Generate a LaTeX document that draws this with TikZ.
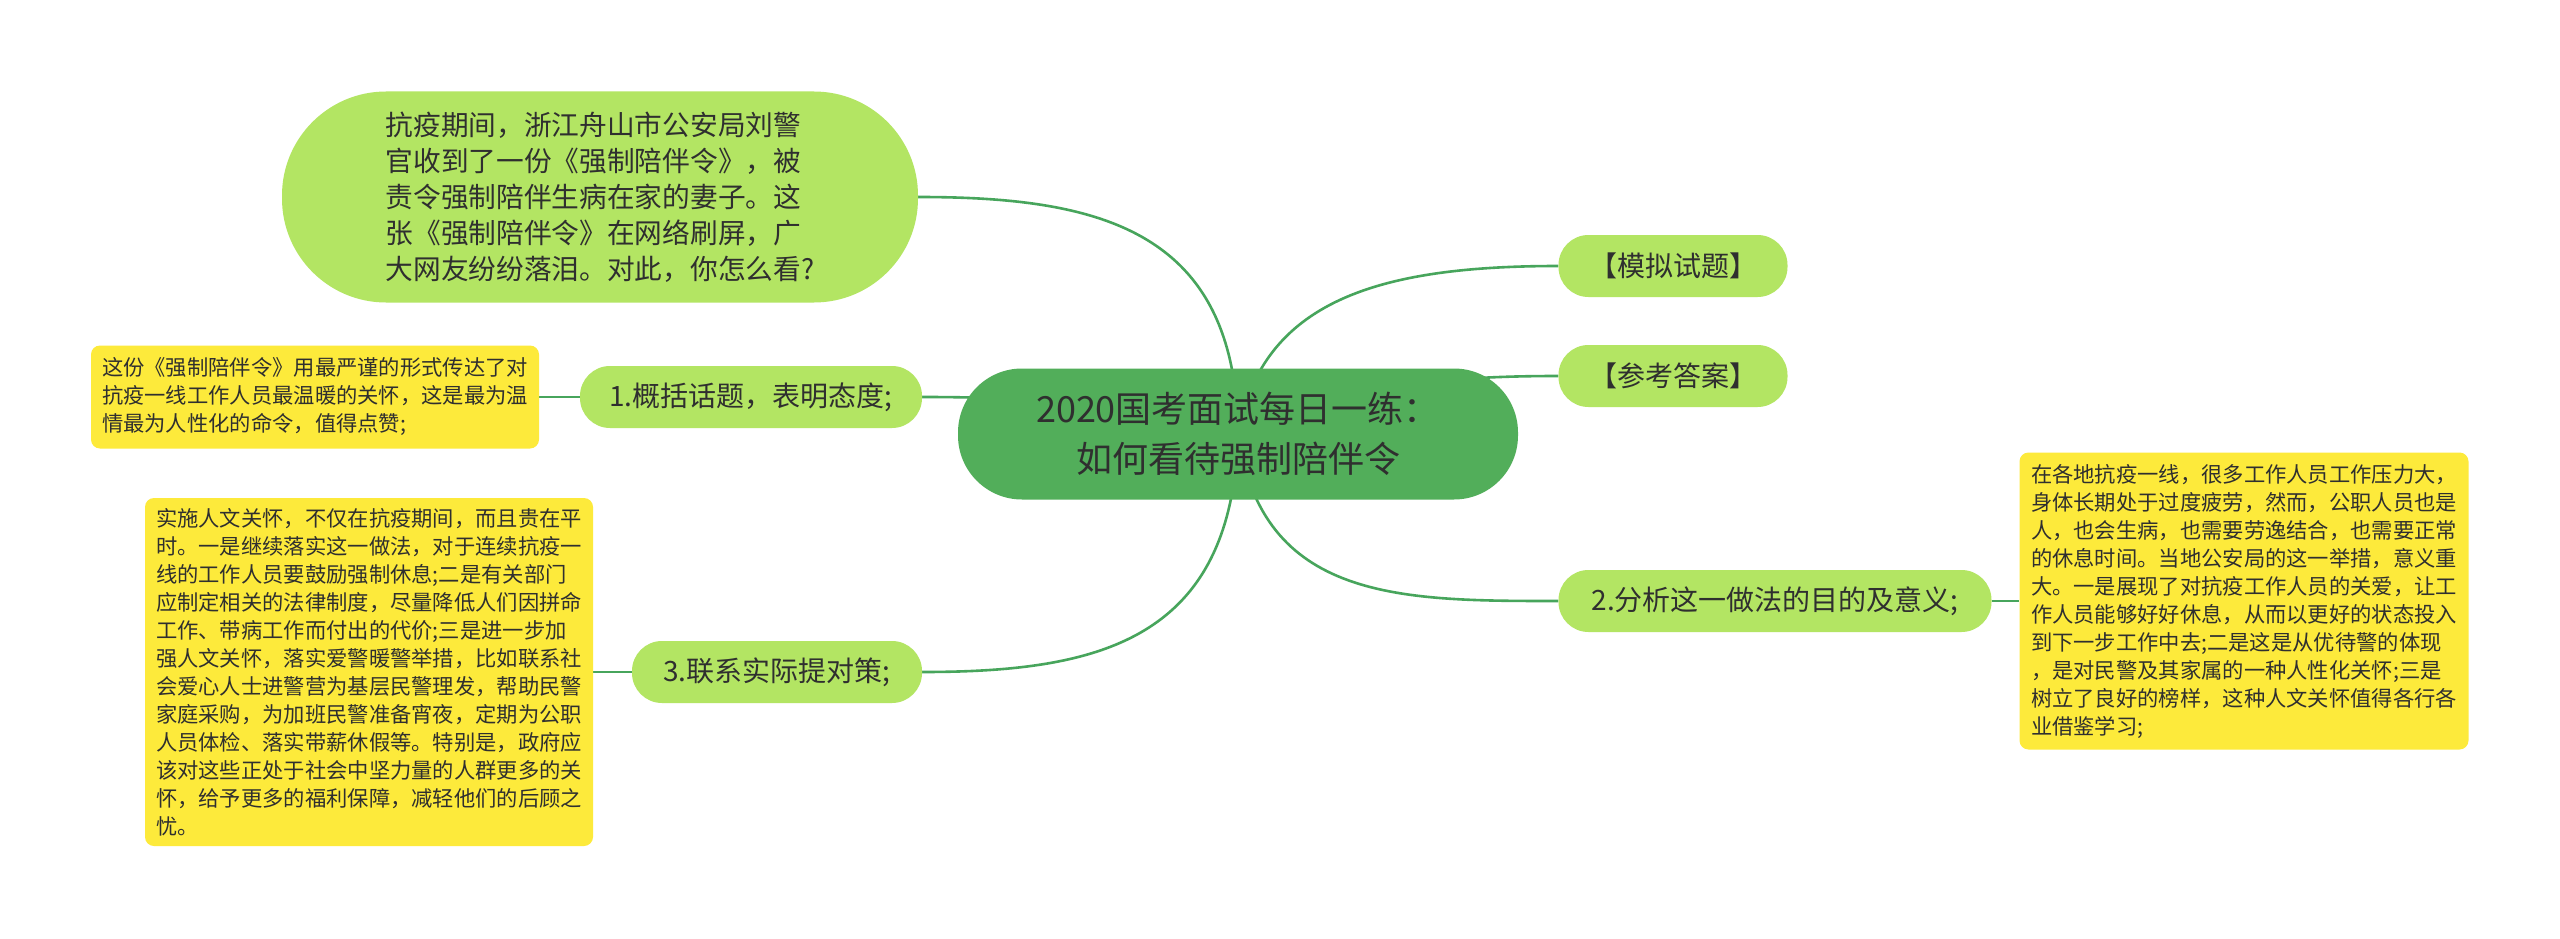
\documentclass[tikz,border=0pt]{standalone}
\usepackage{fontspec}
\setmainfont{Noto Sans CJK SC}
\definecolor{rootfill}{HTML}{52AE5A}
\definecolor{lgfill}{HTML}{B3E563}
\definecolor{yfill}{HTML}{FDEA3B}
\definecolor{linec}{HTML}{47A55C}
\definecolor{txt}{HTML}{2F2F2F}
\pgfdeclarelayer{back}
\pgfdeclarelayer{bg}
\pgfsetlayers{back,bg,main}
\begin{document}
\begin{tikzpicture}[x=1pt,y=-1pt,
  conn/.style={draw=linec, line width=2.6pt},
  rootbox/.style={fill=rootfill, rounded corners=64pt, minimum width=560pt, minimum height=131pt, inner sep=0pt, text=txt, align=center, font=\fontsize{36}{50}\selectfont},
  topicbox/.style={fill=lgfill, rounded corners=30pt, minimum height=62pt, inner sep=0pt, text=txt, font=\fontsize{28}{34}\selectfont},
  qbox/.style={fill=lgfill, rounded corners=104pt, minimum width=636pt, minimum height=211pt, inner sep=0pt, text=txt, align=left, font=\fontsize{27.7}{36}\selectfont},
  leafbox/.style={fill=yfill, rounded corners=9pt, minimum width=448pt, inner sep=0pt, text=txt, align=left, font=\fontsize{21.3}{28}\selectfont}
]
\begin{pgfonlayer}{back}
\fill[white] (0,0) rectangle (2560,939);
\end{pgfonlayer}
\useasboundingbox (0,0) rectangle (2560,939);

\node[rootbox] (root) at (1238,434) {2020国考面试每日一练：\\如何看待强制陪伴令};

\node[qbox] (q) at (600,197) {抗疫期间，浙江舟山市公安局刘警\\官收到了一份《强制陪伴令》，被\\责令强制陪伴生病在家的妻子。这\\张《强制陪伴令》在网络刷屏，广\\大网友纷纷落泪。对此，你怎么看?};

\node[topicbox, minimum width=229pt] (mn) at (1673,266) {【模拟试题】};
\node[topicbox, minimum width=229pt] (ck) at (1673,376) {【参考答案】};
\node[topicbox, minimum width=342pt] (t1) at (751,397) {1.概括话题，表明态度;};
\node[topicbox, minimum width=433pt] (t2) at (1775,601) {2.分析这一做法的目的及意义;};
\node[topicbox, minimum width=290pt] (t3) at (777,672) {3.联系实际提对策;};

\node[leafbox, minimum height=103pt] (y1) at (315,397) {这份《强制陪伴令》用最严谨的形式传达了对\\抗疫一线工作人员最温暖的关怀，这是最为温\\情最为人性化的命令，值得点赞;};

\node[leafbox, minimum height=348pt] (y3) at (369,672) {实施人文关怀，不仅在抗疫期间，而且贵在平\\时。一是继续落实这一做法，对于连续抗疫一\\线的工作人员要鼓励强制休息;二是有关部门\\应制定相关的法律制度，尽量降低人们因拼命\\工作、带病工作而付出的代价;三是进一步加\\强人文关怀，落实爱警暖警举措，比如联系社\\会爱心人士进警营为基层民警理发，帮助民警\\家庭采购，为加班民警准备宵夜，定期为公职\\人员体检、落实带薪休假等。特别是，政府应\\该对这些正处于社会中坚力量的人群更多的关\\怀，给予更多的福利保障，减轻他们的后顾之\\忧。};

\node[leafbox, minimum width=449pt, minimum height=297pt] (y2) at (2244,601) {在各地抗疫一线，很多工作人员工作压力大，\\身体长期处于过度疲劳，然而，公职人员也是\\人，也会生病，也需要劳逸结合，也需要正常\\的休息时间。当地公安局的这一举措，意义重\\大。一是展现了对抗疫工作人员的关爱，让工\\作人员能够好好休息，从而以更好的状态投入\\到下一步工作中去;二是这是从优待警的体现\\，是对民警及其家属的一种人性化关怀;三是\\树立了良好的榜样，这种人文关怀值得各行各\\业借鉴学习;};

\begin{pgfonlayer}{bg}
\draw[conn] (root.center) .. controls (1236,230) and (1100,197) .. (q.east);
\draw[conn] (root.center) .. controls (1262,300) and (1380,266) .. (mn.west);
\draw[conn] (root.center) .. controls (1350,390) and (1420,376) .. (ck.west);
\draw[conn] (root.center) .. controls (1120,400) and (1000,397) .. (t1.east);
\draw[conn] (root.center) .. controls (1232,640) and (1100,672) .. (t3.east);
\draw[conn] (root.center) .. controls (1262,601) and (1400,601) .. (t2.west);
\draw[conn] (t1.west) -- (y1.east);
\draw[conn] (t3.west) -- (y3.east);
\draw[conn] (t2.east) -- (y2.west);
\end{pgfonlayer}
\end{tikzpicture}
\end{document}
